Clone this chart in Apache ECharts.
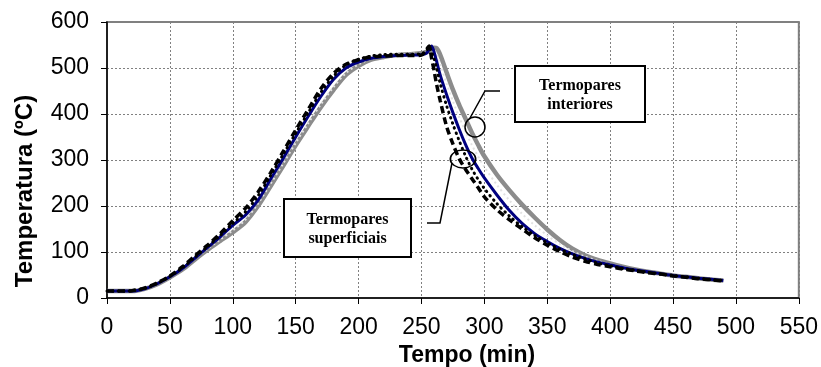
<!DOCTYPE html>
<html>
<head>
<meta charset="utf-8">
<script src="https://cdn.jsdelivr.net/npm/echarts@6/dist/echarts.min.js"></script>
<style>
  html, body { margin: 0; padding: 0; background: #fff; }
  #chart { width: 821px; height: 367px; }
</style>
</head>
<body>
<div id="chart"></div>
<script>
// tempo (min)
const tempo = [0, 10, 20, 30, 40, 50, 60, 70, 80, 90, 100, 110, 120, 130, 140, 150, 160, 170, 180, 190, 200, 210, 220, 230, 240, 250,
  254, 256, 258, 260, 262, 265,
  270, 275, 280, 285, 290, 295, 300,
  310, 320, 330, 340, 350, 360, 370, 380, 390, 400, 410, 420, 430, 440, 450, 460, 470, 480, 490]

// termopares superficiais
const supTracejado = [15, 15, 16, 22, 33, 48, 68, 92, 115, 140, 168, 195, 230, 272, 318, 365, 410, 455, 488, 508, 518, 524, 526, 527, 527, 528,
  540, 548, 522, 495, 465, 428,
  373, 335, 303, 280, 260, 240, 220,
  192, 170, 150, 131, 115, 101, 89, 80, 73, 68, 63, 59, 55, 52, 48, 45, 42, 40, 37]
const supPontilhado = [15, 15, 16, 21, 32, 47, 66, 89, 112, 136, 162, 187, 222, 266, 312, 358, 403, 447, 482, 507, 519, 526, 529, 530, 530, 531,
  538, 546, 535, 520, 500, 465,
  418, 378, 342, 309, 281, 258, 238,
  205, 178, 155, 136, 120, 106, 95, 85, 76, 70, 64, 60, 56, 52, 49, 46, 43, 40, 38]

// termopares interiores
const intAzul = [15, 15, 15, 20, 31, 46, 64, 87, 110, 133, 158, 180, 212, 258, 303, 350, 395, 438, 475, 500, 513, 521, 525, 527, 528, 529,
  532, 540, 548, 535, 515, 484,
  442, 403, 367, 334, 305, 282, 261,
  224, 190, 162, 140, 123, 108, 96, 86, 78, 72, 66, 61, 57, 53, 49, 46, 43, 41, 38]
const intCinza = [15, 15, 15, 20, 30, 45, 62, 84, 105, 124, 143, 165, 200, 243, 287, 332, 374, 415, 452, 485, 505, 518, 524, 528, 530, 532,
  535, 537, 541, 544, 543, 528,
  490, 453, 420, 390, 360, 333, 308,
  268, 234, 203, 175, 149, 126, 107, 93, 83, 75, 68, 62, 57, 53, 49, 46, 43, 40, 38]
const intClaro = [15, 15, 15, 20, 31, 46, 63, 86, 107, 127, 147, 170, 205, 248, 292, 337, 380, 421, 458, 489, 508, 520, 525, 529, 531, 532,
  535, 540, 545, 540, 530, 508,
  466, 428, 393, 362, 333, 308, 285,
  246, 212, 183, 158, 136, 117, 102, 90, 81, 73, 67, 61, 56, 52, 48, 45, 42, 40, 38]

const xTicks = { min: 0, max: 550, interval: 50 }
const yTicks = { min: 0, max: 600, interval: 100 }

const pares = (vals) => tempo.map((t, i) => [t, vals[i]])

const chart = echarts.init(document.getElementById('chart'))

const linha = (vals, lineStyle) => ({
  type: 'line',
  data: pares(vals),
  showSymbol: false,
  symbol: 'none',
  smooth: 0.3,
  animation: false,
  lineStyle
})

const eixo = {
  axisLine: { show: true, lineStyle: { color: '#000', width: 1.5 } },
  axisTick: { show: true, length: 6, lineStyle: { color: '#000' } },
  axisLabel: { color: '#000', fontFamily: 'Liberation Sans', fontSize: 23 },
  splitLine: { show: true, lineStyle: { color: '#808080', type: [2, 2], width: 1 } }
}

chart.setOption({
  backgroundColor: '#fff',
  grid: {
    left: 107,
    right: 21,
    top: 22,
    bottom: 69,
    show: true,
    borderColor: '#808080',
    borderWidth: 2
  },
  xAxis: {
    type: 'value',
    ...xTicks,
    ...eixo,
    axisLabel: { ...eixo.axisLabel, margin: 18 }
  },
  yAxis: {
    type: 'value',
    ...yTicks,
    ...eixo,
    axisLabel: { ...eixo.axisLabel, margin: 18 }
  },
  series: [
    linha(intCinza, { color: '#8c8c8c', width: 4.5 }),
    linha(intClaro, { color: '#e2e2e2', width: 2, type: [2, 3] }),
    linha(intAzul, { color: '#000080', width: 3 }),
    linha(supPontilhado, { color: '#000', width: 3, type: [0.5, 5], cap: 'round' }),
    linha(supTracejado, { color: '#000', width: 3.5, type: [7, 4] })
  ],
  graphic: [
    // títulos dos eixos
    {
      type: 'text',
      x: 467,
      y: 356,
      style: {
        text: 'Tempo (min)',
        font: 'bold 23px "Liberation Sans"',
        fill: '#000',
        align: 'center',
        verticalAlign: 'middle'
      }
    },
    {
      type: 'text',
      x: 25,
      y: 191,
      rotation: Math.PI / 2,
      style: {
        text: 'Temperatura (ºC)',
        font: 'bold 24px "Liberation Sans"',
        fill: '#000',
        align: 'center',
        verticalAlign: 'middle'
      }
    },
    // caixa termopares interiores
    {
      type: 'rect',
      shape: { x: 515, y: 66, width: 130, height: 56 },
      style: { fill: '#fff', stroke: '#000', lineWidth: 2 },
      z: 100
    },
    {
      type: 'text',
      x: 580,
      y: 95,
      z: 101,
      style: {
        text: 'Termopares\ninteriores',
        font: 'bold 16px "Liberation Serif"',
        lineHeight: 19,
        fill: '#000',
        align: 'center',
        verticalAlign: 'middle'
      }
    },
    {
      type: 'polyline',
      shape: { points: [[500, 91], [485, 91], [470, 118]] },
      style: { stroke: '#000', lineWidth: 1.5, fill: null },
      z: 100
    },
    {
      type: 'circle',
      shape: { cx: 475, cy: 127, r: 10 },
      style: { stroke: '#000', lineWidth: 1.5, fill: null },
      z: 100
    },
    // caixa termopares superficiais
    {
      type: 'rect',
      shape: { x: 284, y: 199, width: 127, height: 58 },
      style: { fill: '#fff', stroke: '#000', lineWidth: 2 },
      z: 100
    },
    {
      type: 'text',
      x: 347.5,
      y: 229,
      z: 101,
      style: {
        text: 'Termopares\nsuperficiais',
        font: 'bold 16px "Liberation Serif"',
        lineHeight: 19,
        fill: '#000',
        align: 'center',
        verticalAlign: 'middle'
      }
    },
    {
      type: 'polyline',
      shape: { points: [[452, 163], [440, 223], [427, 223]] },
      style: { stroke: '#000', lineWidth: 1.5, fill: null },
      z: 100
    },
    {
      type: 'circle',
      x: 463,
      y: 159,
      scaleX: 1.4,
      scaleY: 1,
      shape: { cx: 0, cy: 0, r: 9 },
      style: { stroke: '#000', lineWidth: 1.3, fill: null, strokeNoScale: true },
      z: 100
    }
  ]
})
</script>
</body>
</html>
